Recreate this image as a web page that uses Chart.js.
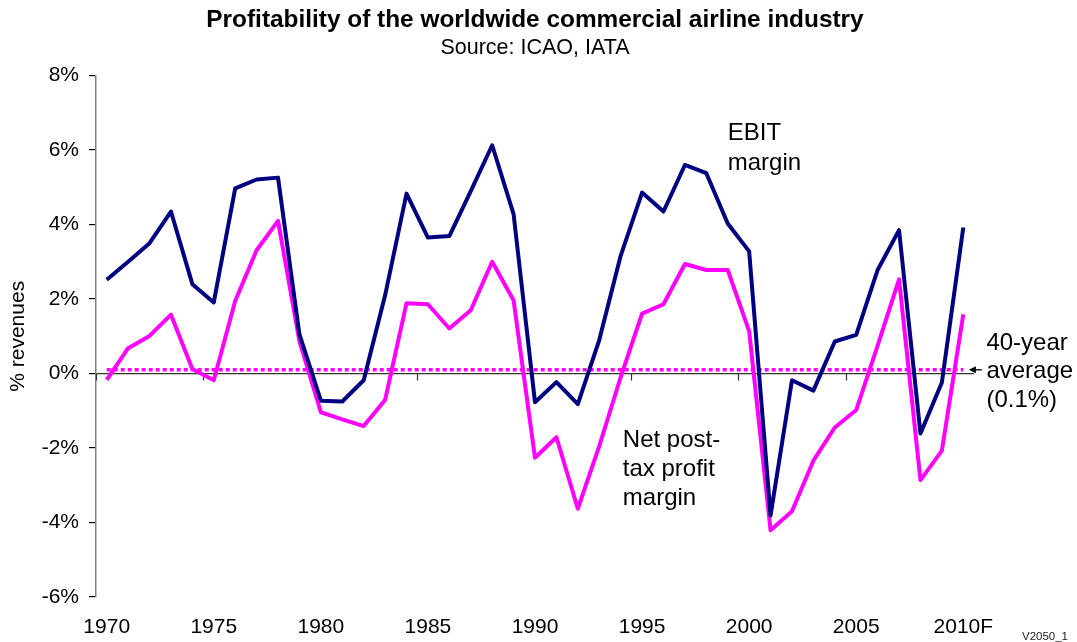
<!DOCTYPE html>
<html>
<head>
<meta charset="utf-8">
<title>Profitability of the worldwide commercial airline industry</title>
<script src="https://cdn.jsdelivr.net/npm/chart.js@4.4.1/dist/chart.umd.min.js"></script>
<style>
  html, body { margin: 0; padding: 0; background: #ffffff; }
  #wrap { width: 1077px; height: 642px; position: relative; }
</style>
</head>
<body>
<div id="wrap"><canvas id="chart" width="1077" height="642"></canvas></div>
<script>
// Years on the category axis (2010 is a forecast)
const years = [
  '1970','1971','1972','1973','1974','1975','1976','1977','1978','1979',
  '1980','1981','1982','1983','1984','1985','1986','1987','1988','1989',
  '1990','1991','1992','1993','1994','1995','1996','1997','1998','1999',
  '2000','2001','2002','2003','2004','2005','2006','2007','2008','2009',
  '2010F'
];

// EBIT margin, % of revenues
const ebitMargin = [
   2.52,  3.00,  3.50,  4.35,  2.40,  1.91,  4.97,  5.21,  5.26,  1.05,
  -0.73, -0.75, -0.18,  2.10,  4.83,  3.65,  3.69,  4.90,  6.13,  4.28,
  -0.77, -0.23, -0.82,  0.90,  3.16,  4.86,  4.35,  5.60,  5.38,  4.03,
   3.28, -3.81, -0.18, -0.46,  0.86,  1.04,  2.78,  3.85, -1.61, -0.24,
   3.92
];

// Net post-tax profit margin, % of revenues
const netMargin = [
  -0.17,  0.68,  1.01,  1.58,  0.12, -0.18,  1.95,  3.31,  4.10,  0.87,
  -1.04, -1.23, -1.41, -0.71,  1.89,  1.86,  1.21,  1.70,  3.00,  1.97,
  -2.26, -1.71, -3.63, -1.95, -0.10,  1.61,  1.86,  2.94,  2.78,  2.78,
   1.14, -4.21, -3.70, -2.34, -1.45, -0.98,  0.75,  2.53, -2.86, -2.07,
   1.59
];

// 40-year average net margin, %
const averageMargin = 0.1;

// Value axis range and step, %
const yRange = [-6, 8];
const yStep = 2;

const FONT = "'Liberation Sans', Arial, Helvetica, sans-serif";
Chart.defaults.font.family = FONT;
Chart.defaults.color = '#000';

// Text notes placed in axis units: category position and value of the first baseline
const notes = [
  { lines: ['EBIT', 'margin'], at: 29.0, value: 6.27, step: 30 },
  { lines: ['Net post-', 'tax profit', 'margin'], at: 24.1, value: -1.98, step: 29 },
  { lines: ['40-year', 'average', '(0.1%)'], at: 41.08, value: 0.64, step: 28.5 }
];

// Small downward tick marks on the zero line, every fifth year boundary
const zeroLineTicks = {
  id: 'zeroLineTicks',
  beforeDatasetsDraw(chart) {
    const { ctx, scales: { x, y } } = chart;
    const y0 = y.getPixelForValue(0);
    const half = (x.getPixelForValue(1) - x.getPixelForValue(0)) / 2;
    ctx.save();
    ctx.strokeStyle = '#333';
    ctx.lineWidth = 1.2;
    for (let i = 0; i < years.length; i += 5) {
      const px = Math.round(x.getPixelForValue(i) - half) + 0.5;
      ctx.beginPath();
      ctx.moveTo(px, y0);
      ctx.lineTo(px, y0 + 7);
      ctx.stroke();
    }
    ctx.restore();
  }
};

// Series labels, the arrow to the average line and the chart reference code
const chartNotes = {
  id: 'chartNotes',
  afterDraw(chart) {
    const { ctx, scales: { x, y } } = chart;
    ctx.save();
    ctx.fillStyle = '#000';
    ctx.textAlign = 'left';
    ctx.textBaseline = 'alphabetic';
    ctx.font = '24px ' + FONT;
    notes.forEach(n => {
      const px = x.getPixelForValue(n.at);
      const py = y.getPixelForValue(n.value);
      n.lines.forEach((t, k) => ctx.fillText(t, px, py + k * n.step));
    });

    // arrow pointing left at the average line
    const ay = y.getPixelForValue(averageMargin);
    const tip = x.getPixelForValue(40.26);
    const tail = x.getPixelForValue(40.87);
    ctx.strokeStyle = '#000';
    ctx.lineWidth = 1.3;
    ctx.beginPath();
    ctx.moveTo(tail, ay);
    ctx.lineTo(tip + 4, ay);
    ctx.stroke();
    ctx.beginPath();
    ctx.moveTo(tip, ay);
    ctx.lineTo(tip + 7, ay - 3.5);
    ctx.lineTo(tip + 7, ay + 3.5);
    ctx.closePath();
    ctx.fill();

    ctx.font = '11.5px ' + FONT;
    ctx.textAlign = 'right';
    ctx.fillStyle = '#222';
    ctx.fillText('V2050_1', chart.width - 9, chart.height - 2);
    ctx.restore();
  }
};

new Chart(document.getElementById('chart'), {
  type: 'line',
  data: {
    labels: years,
    datasets: [
      {
        label: 'EBIT margin',
        data: ebitMargin,
        borderColor: '#000080',
        borderWidth: 4,
        borderJoinStyle: 'round',
        pointRadius: 0,
        tension: 0,
        fill: false
      },
      {
        label: 'Net post-tax profit margin',
        data: netMargin,
        borderColor: '#FF00FF',
        borderWidth: 4,
        borderJoinStyle: 'round',
        pointRadius: 0,
        tension: 0,
        fill: false
      },
      {
        label: '40-year average',
        data: years.map(() => averageMargin),
        borderColor: '#FF00FF',
        borderWidth: 3.5,
        borderDash: [4, 3],
        borderCapStyle: 'butt',
        pointRadius: 0,
        tension: 0,
        fill: false
      }
    ]
  },
  options: {
    responsive: false,
    animation: false,
    devicePixelRatio: 1,
    layout: { padding: { left: 0, right: 103, top: 0, bottom: 0 } },
    plugins: {
      legend: { display: false },
      tooltip: { enabled: false },
      title: {
        display: true,
        fullSize: false,
        text: 'Profitability of the worldwide commercial airline industry',
        color: '#000',
        font: { family: FONT, size: 24.4, weight: 'bold' },
        padding: { top: 6, bottom: 0 }
      },
      subtitle: {
        display: true,
        fullSize: false,
        text: 'Source: ICAO, IATA',
        color: '#000',
        font: { family: FONT, size: 21.5 },
        padding: { top: 0, bottom: 14.5 }
      }
    },
    scales: {
      x: {
        type: 'category',
        offset: true,
        grid: { display: false, drawTicks: false },
        border: { display: false },
        ticks: {
          autoSkip: false,
          maxRotation: 0,
          minRotation: 0,
          color: '#000',
          font: { family: FONT, size: 21 },
          padding: 18,
          callback(v, i) { return i % 5 === 0 ? this.getLabelForValue(v) : ''; }
        },
        afterFit(s) { s.height = 45; }
      },
      y: {
        min: yRange[0],
        max: yRange[1],
        ticks: {
          stepSize: yStep,
          color: '#000',
          font: { family: FONT, size: 21 },
          padding: 10,
          callback: v => v + '%'
        },
        grid: {
          color: c => (c.tick && c.tick.value === 0 ? '#333' : 'rgba(0,0,0,0)'),
          lineWidth: 1.2,
          drawTicks: true,
          tickLength: 7,
          tickColor: '#000'
        },
        border: { display: true, color: '#808080', width: 1.5 },
        title: {
          display: true,
          text: '% revenues',
          color: '#000',
          font: { family: FONT, size: 21 },
          padding: { top: 6, bottom: 0 }
        },
        afterFit(s) { s.width = 96; }
      }
    }
  },
  plugins: [zeroLineTicks, chartNotes]
});
</script>
</body>
</html>
